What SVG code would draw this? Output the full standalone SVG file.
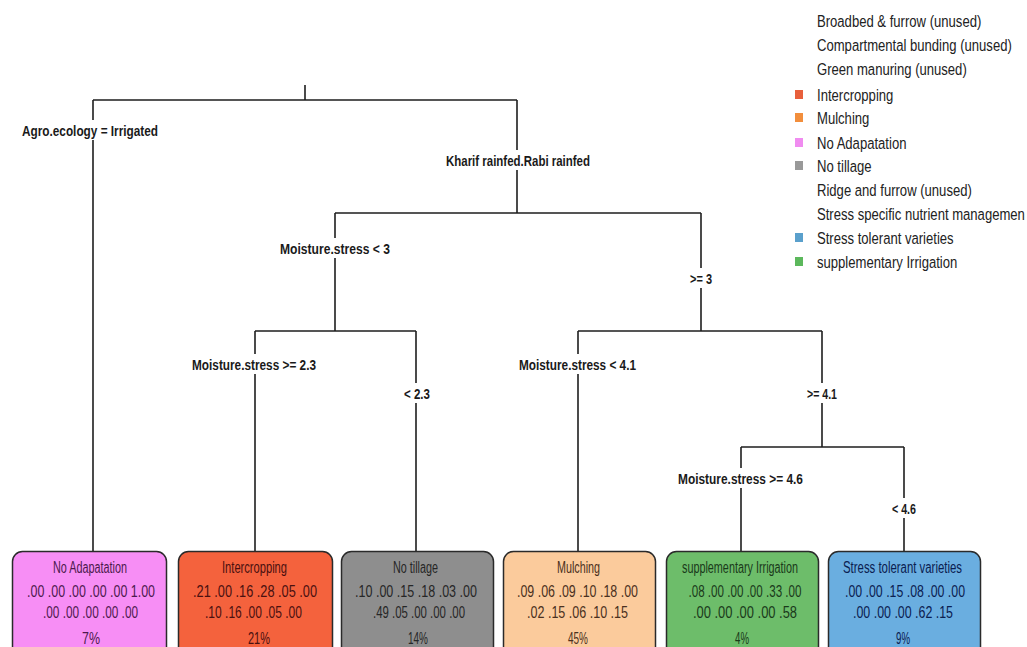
<svg xmlns="http://www.w3.org/2000/svg" width="1027" height="647" viewBox="0 0 1027 647">
<style>
.bg{fill:#ffffff}
.edge{stroke:#1e1e1e;stroke-width:1.6;fill:none}
.lbl{font-family:"Liberation Sans",Arial,sans-serif;font-size:15px;font-weight:bold;fill:#1a1a1a;text-anchor:middle}
.lblbg{fill:#ffffff}
.leaf{stroke:#2a2a2a;stroke-width:1.5}
.lt{font-family:"Liberation Sans",Arial,sans-serif;font-size:16px;text-anchor:middle}
.leg{font-family:"Liberation Sans",Arial,sans-serif;font-size:17px;fill:#222222}
</style>
<rect class="bg" x="0" y="0" width="1027" height="647"/>
<g id="connectors">
<path class="edge" d="M305,85 V100 M93,100 H517 M93,100 V551 M517,100 V213"/>
<path class="edge" d="M335,213 H701 M335,213 V331 M701,213 V331"/>
<path class="edge" d="M255,331 H416 M255,331 V551 M416,331 V551"/>
<path class="edge" d="M578,331 H822 M578,331 V551 M822,331 V447"/>
<path class="edge" d="M741,447 H904 M741,447 V551 M904,447 V551"/>
</g>
<g id="labels">
<rect class="lblbg" x="20" y="120" width="140" height="20"/>
<text class="lbl" x="90" y="135.5" textLength="136" lengthAdjust="spacingAndGlyphs">Agro.ecology = Irrigated</text>
<rect class="lblbg" x="444" y="150" width="148" height="20"/>
<text class="lbl" x="518" y="165.5" textLength="144" lengthAdjust="spacingAndGlyphs">Kharif rainfed.Rabi rainfed</text>
<rect class="lblbg" x="278" y="238" width="114" height="20"/>
<text class="lbl" x="335" y="253.5" textLength="110" lengthAdjust="spacingAndGlyphs">Moisture.stress &lt; 3</text>
<rect class="lblbg" x="688" y="268" width="26" height="20"/>
<text class="lbl" x="701" y="283.5" textLength="22" lengthAdjust="spacingAndGlyphs">&gt;= 3</text>
<rect class="lblbg" x="190" y="354" width="128" height="20"/>
<text class="lbl" x="254" y="369.5" textLength="124" lengthAdjust="spacingAndGlyphs">Moisture.stress &gt;= 2.3</text>
<rect class="lblbg" x="402" y="383" width="30" height="20"/>
<text class="lbl" x="417" y="398.5" textLength="26" lengthAdjust="spacingAndGlyphs">&lt; 2.3</text>
<rect class="lblbg" x="517" y="354" width="121" height="20"/>
<text class="lbl" x="577.5" y="369.5" textLength="117" lengthAdjust="spacingAndGlyphs">Moisture.stress &lt; 4.1</text>
<rect class="lblbg" x="805" y="383" width="34" height="20"/>
<text class="lbl" x="822" y="398.5" textLength="30" lengthAdjust="spacingAndGlyphs">&gt;= 4.1</text>
<rect class="lblbg" x="676" y="468" width="129" height="20"/>
<text class="lbl" x="740.5" y="483.5" textLength="125" lengthAdjust="spacingAndGlyphs">Moisture.stress &gt;= 4.6</text>
<rect class="lblbg" x="890" y="498" width="28" height="20"/>
<text class="lbl" x="904" y="513.5" textLength="24" lengthAdjust="spacingAndGlyphs">&lt; 4.6</text>
</g>
<g id="leaf-no-adapatation">
<rect class="leaf" x="12.5" y="551.5" width="154" height="110" rx="10" fill="#f78ef5"/>
<text class="lt" fill="#4d1a4d" x="90" y="573" textLength="74" lengthAdjust="spacingAndGlyphs">No Adapatation</text>
<text class="lt" fill="#4d1a4d" x="91" y="597" textLength="128" lengthAdjust="spacingAndGlyphs">.00 .00 .00 .00 .00 1.00</text>
<text class="lt" fill="#4d1a4d" x="90.5" y="618" textLength="95" lengthAdjust="spacingAndGlyphs">.00 .00 .00 .00 .00</text>
<text class="lt" fill="#4d1a4d" x="91" y="644" textLength="18" lengthAdjust="spacingAndGlyphs">7%</text>
</g>
<g id="leaf-intercropping">
<rect class="leaf" x="178.5" y="551.5" width="154" height="110" rx="10" fill="#f4623d"/>
<text class="lt" fill="#4a1010" x="254.5" y="573" textLength="65" lengthAdjust="spacingAndGlyphs">Intercropping</text>
<text class="lt" fill="#4a1010" x="255" y="597" textLength="124" lengthAdjust="spacingAndGlyphs">.21 .00 .16 .28 .05 .00</text>
<text class="lt" fill="#4a1010" x="253.5" y="618" textLength="97" lengthAdjust="spacingAndGlyphs">.10 .16 .00 .05 .00</text>
<text class="lt" fill="#4a1010" x="259" y="644" textLength="22" lengthAdjust="spacingAndGlyphs">21%</text>
</g>
<g id="leaf-no-tillage">
<rect class="leaf" x="341.5" y="551.5" width="152" height="110" rx="10" fill="#8e8e8e"/>
<text class="lt" fill="#262626" x="415.5" y="573" textLength="45" lengthAdjust="spacingAndGlyphs">No tillage</text>
<text class="lt" fill="#262626" x="416" y="597" textLength="122" lengthAdjust="spacingAndGlyphs">.10 .00 .15 .18 .03 .00</text>
<text class="lt" fill="#262626" x="419" y="618" textLength="92" lengthAdjust="spacingAndGlyphs">.49 .05 .00 .00 .00</text>
<text class="lt" fill="#262626" x="418" y="644" textLength="20" lengthAdjust="spacingAndGlyphs">14%</text>
</g>
<g id="leaf-mulching">
<rect class="leaf" x="503.5" y="551.5" width="152" height="110" rx="10" fill="#fbcb9c"/>
<text class="lt" fill="#4a3020" x="578.5" y="573" textLength="43" lengthAdjust="spacingAndGlyphs">Mulching</text>
<text class="lt" fill="#4a3020" x="577.5" y="597" textLength="121" lengthAdjust="spacingAndGlyphs">.09 .06 .09 .10 .18 .00</text>
<text class="lt" fill="#4a3020" x="577.5" y="618" textLength="101" lengthAdjust="spacingAndGlyphs">.02 .15 .06 .10 .15</text>
<text class="lt" fill="#4a3020" x="578" y="644" textLength="20" lengthAdjust="spacingAndGlyphs">45%</text>
</g>
<g id="leaf-supplementary-irrigation">
<rect class="leaf" x="666.5" y="551.5" width="152" height="110" rx="10" fill="#6dbd6a"/>
<text class="lt" fill="#1a3a1a" x="740" y="573" textLength="116" lengthAdjust="spacingAndGlyphs">supplementary Irrigation</text>
<text class="lt" fill="#1a3a1a" x="745" y="597" textLength="113" lengthAdjust="spacingAndGlyphs">.08 .00 .00 .00 .33 .00</text>
<text class="lt" fill="#1a3a1a" x="745" y="618" textLength="104" lengthAdjust="spacingAndGlyphs">.00 .00 .00 .00 .58</text>
<text class="lt" fill="#1a3a1a" x="742" y="644" textLength="14" lengthAdjust="spacingAndGlyphs">4%</text>
</g>
<g id="leaf-stress-tolerant-varieties">
<rect class="leaf" x="828.5" y="551.5" width="152" height="110" rx="10" fill="#6aaee0"/>
<text class="lt" fill="#0a2050" x="902.5" y="573" textLength="119" lengthAdjust="spacingAndGlyphs">Stress tolerant varieties</text>
<text class="lt" fill="#0a2050" x="905" y="597" textLength="120" lengthAdjust="spacingAndGlyphs">.00 .00 .15 .08 .00 .00</text>
<text class="lt" fill="#0a2050" x="903" y="618" textLength="100" lengthAdjust="spacingAndGlyphs">.00 .00 .00 .62 .15</text>
<text class="lt" fill="#0a2050" x="903" y="644" textLength="14" lengthAdjust="spacingAndGlyphs">9%</text>
</g>
<g id="legend">
<text class="leg" transform="translate(817,27) scale(0.77,1)">Broadbed &amp; furrow (unused)</text>
<text class="leg" transform="translate(817,51) scale(0.77,1)">Compartmental  bunding (unused)</text>
<text class="leg" transform="translate(817,75) scale(0.77,1)">Green manuring (unused)</text>
<rect x="795" y="90" width="8" height="9" fill="#e8603c"/>
<text class="leg" transform="translate(817,101) scale(0.77,1)">Intercropping</text>
<rect x="795" y="113" width="8" height="9" fill="#f28e3c"/>
<text class="leg" transform="translate(817,124) scale(0.77,1)">Mulching</text>
<rect x="795" y="138" width="8" height="9" fill="#f08cf0"/>
<text class="leg" transform="translate(817,149) scale(0.77,1)">No Adapatation</text>
<rect x="795" y="161" width="8" height="9" fill="#999999"/>
<text class="leg" transform="translate(817,172) scale(0.77,1)">No tillage</text>
<text class="leg" transform="translate(817,196) scale(0.77,1)">Ridge and furrow (unused)</text>
<text class="leg" transform="translate(817,220) scale(0.77,1)">Stress specific nutrient managemen</text>
<rect x="795" y="233" width="8" height="9" fill="#5aa0cc"/>
<text class="leg" transform="translate(817,244) scale(0.77,1)">Stress tolerant varieties</text>
<rect x="795" y="257" width="8" height="9" fill="#5cb85c"/>
<text class="leg" transform="translate(817,268) scale(0.77,1)">supplementary Irrigation</text>
</g>
</svg>
